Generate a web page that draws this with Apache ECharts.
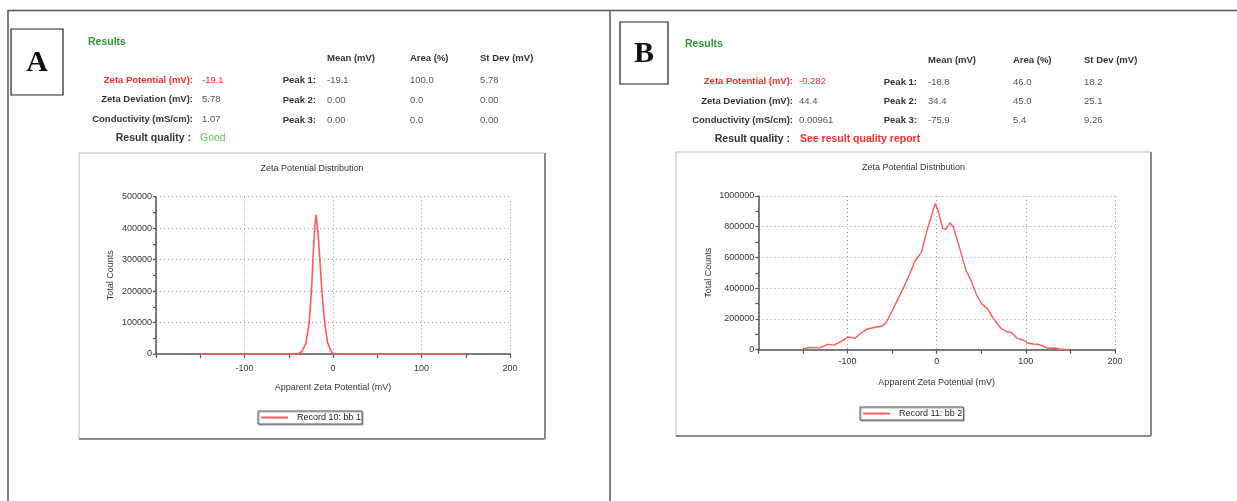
<!DOCTYPE html>
<html>
<head>
<meta charset="utf-8">
<title>Zeta Potential Results</title>
<script src="https://cdn.jsdelivr.net/npm/echarts@6/dist/echarts.min.js"></script>
<style>
  html, body { margin: 0; padding: 0; background: #fff; }
  #chart { width: 1237px; height: 501px; }
</style>
</head>
<body>
<div id="chart"></div>
<script>
// ---- measurement values ----
const resultLabels = ['Zeta Potential (mV):', 'Zeta Deviation (mV):', 'Conductivity (mS/cm):'];
const peakNames = ['Peak 1:', 'Peak 2:', 'Peak 3:'];
const peakHeaders = ['Mean (mV)', 'Area (%)', 'St Dev (mV)'];

const resultsA = ['-19.1', '5.78', '1.07'];
const qualityA = 'Good';
const peaksA = [['-19.1', '100.0', '5.78'], ['0.00', '0.0', '0.00'], ['0.00', '0.0', '0.00']];

const resultsB = ['-0.282', '44.4', '0.00961'];
const qualityB = 'See result quality report';
const peaksB = [['-18.8', '46.0', '18.2'], ['34.4', '45.0', '25.1'], ['-75.9', '5.4', '9.26']];

// distribution curves: apparent zeta potential (mV) vs total counts
const potentialA = [-150, -40, -38, -35.5, -30.7, -27, -24.3, -22.5, -20.6, -19.1, -16.9, -14.6, -12.4, -9.3, -6.3, -3.4, 0, 150];
const countsA    = [0, 0, 0, 7000, 34000, 97000, 203000, 309000, 405000, 442000, 384000, 288000, 193000, 97000, 39000, 15000, 0, 0];

const potentialB = [-150, -142, -131, -122, -115, -106, -99, -91.5, -86, -77.7, -69, -60, -56, -48.6, -37.4, -30.7, -24.3, -16.8, -11.2, -5.6, -1.5,
                    1.9, 6.7, 10.4, 14.9, 18.6, 24.2, 28, 32.8, 39.2, 44.8, 51, 56.7, 63.4, 71.7, 78.4, 84, 90.3, 96.3, 101.5, 108, 113.8, 119.4, 125, 132.5, 138, 148.5];
const countsB    = [6000, 15000, 12000, 35000, 30000, 57000, 83000, 74000, 102000, 135000, 146000, 156000, 182000, 269000, 399000, 486000, 577000, 638000, 768000, 876000, 952000,
                    898000, 790000, 783000, 826000, 800000, 692000, 616000, 518000, 442000, 356000, 295000, 269000, 204000, 143000, 117000, 111000, 74000, 65000, 44000, 37000, 35000, 24000, 9000, 11000, 3000, 0];

const seriesNameA = 'Record 10: bb 1';
const seriesNameB = 'Record 11: bb 2';

// ---- styling ----
const FONT = '"Liberation Sans Narrow", "Liberation Sans", Arial, sans-serif';
const LABEL_COLOR = '#333';
const VALUE_COLOR = '#555';
const RED = '#ff2a2a';
const LINE_RED = '#ff5a5a';
const GREEN = '#2e9a2e';

function txt(x, y, text, opts) {
  opts = opts || {};
  return {
    type: 'text', silent: true,
    style: {
      x: x, y: y, text: text,
      fill: opts.fill || LABEL_COLOR,
      font: (opts.bold ? 'bold ' : '') + (opts.size || 9.5) + 'px ' + (opts.family || FONT),
      align: opts.align || 'left',
      verticalAlign: 'middle'
    }
  };
}

function line(x1, y1, x2, y2, stroke, w) {
  return { type: 'line', silent: true, shape: { x1: x1, y1: y1, x2: x2, y2: y2 }, style: { stroke: stroke, lineWidth: w } };
}

function panelText(L, results, quality, qualityColor, qualityBold, peaks) {
  const out = [];
  out.push(txt(L.titleX, L.titleY, 'Results', { fill: GREEN, bold: true, size: 10.5 }));
  resultLabels.forEach(function (lab, i) {
    out.push(txt(L.labelRight, L.rows[i], lab, { bold: true, align: 'right', fill: i === 0 ? RED : LABEL_COLOR }));
    out.push(txt(L.valueX, L.rows[i], results[i], { fill: i === 0 ? RED : VALUE_COLOR }));
  });
  out.push(txt(L.qualityRight, L.qualityY, 'Result quality :', { bold: true, align: 'right', size: 10.5 }));
  out.push(txt(L.qualityX, L.qualityY, quality, { fill: qualityColor, bold: qualityBold, size: 10.5 }));
  peakHeaders.forEach(function (h, j) {
    out.push(txt(L.cols[j], L.headY, h, { bold: true }));
  });
  peakNames.forEach(function (p, i) {
    out.push(txt(L.peakRight, L.peakRows[i], p, { bold: true, align: 'right' }));
    peaks[i].forEach(function (v, j) {
      out.push(txt(L.cols[j], L.peakRows[i], v, { fill: VALUE_COLOR }));
    });
  });
  return out;
}

function chartBox(b, title) {
  return [
    { type: 'rect', silent: true, shape: { x: b.x, y: b.y, width: b.w, height: b.h }, style: { fill: '#fff', stroke: '#b8b8b8', lineWidth: 1 }, z: -1 },
    line(b.x, b.y + b.h, b.x + b.w, b.y + b.h, '#8a8a8a', 2),
    line(b.x + b.w, b.y, b.x + b.w, b.y + b.h, '#8a8a8a', 2),
    txt(b.x + b.w / 2, b.titleY, title, { size: 9, align: 'center', family: '"Liberation Sans", Arial, sans-serif' })
  ];
}

const layoutA = {
  titleX: 88, titleY: 42, labelRight: 193, valueX: 202, rows: [80, 99.5, 119],
  qualityRight: 191, qualityX: 200, qualityY: 138.5,
  peakRight: 316, cols: [327, 410, 480], headY: 58.5, peakRows: [80.5, 100.3, 120]
};
const layoutB = {
  titleX: 685, titleY: 44, labelRight: 793, valueX: 799, rows: [81.7, 101, 120.3],
  qualityRight: 790, qualityX: 800, qualityY: 139.5,
  peakRight: 917, cols: [928, 1013, 1084], headY: 60, peakRows: [82.3, 101.7, 120.7]
};

const graphics = [].concat(
  // outer frame of the figure table
  [line(8, 10.5, 1237, 10.5, '#555', 1.5), line(8, 10, 8, 501, '#555', 1.5), line(610, 10, 610, 501, '#555', 1.5)],
  // panel letters
  [
    { type: 'rect', silent: true, shape: { x: 11, y: 29, width: 52, height: 66 }, style: { fill: 'none', stroke: '#222', lineWidth: 1.2 } },
    txt(37, 63, 'A', { bold: true, size: 30, align: 'center', family: '"Liberation Serif", "DejaVu Serif", serif', fill: '#111' }),
    { type: 'rect', silent: true, shape: { x: 620, y: 22, width: 48, height: 62 }, style: { fill: 'none', stroke: '#222', lineWidth: 1.2 } },
    txt(644, 54, 'B', { bold: true, size: 30, align: 'center', family: '"Liberation Serif", "DejaVu Serif", serif', fill: '#111' })
  ],
  panelText(layoutA, resultsA, qualityA, '#5cc85c', false, peaksA),
  panelText(layoutB, resultsB, qualityB, RED, true, peaksB),
  chartBox({ x: 79, y: 153, w: 466, h: 286, titleY: 168.5 }, 'Zeta Potential Distribution'),
  chartBox({ x: 676, y: 152, w: 475, h: 284, titleY: 167.5 }, 'Zeta Potential Distribution')
);

const axisFont = { fontFamily: '"Liberation Sans", Arial, sans-serif', fontSize: 9, color: '#333' };
const gridLine = { show: true, lineStyle: { color: '#9a9a9a', type: [1, 3], width: 1 } };
const axisLine = { show: true, onZero: false, lineStyle: { color: '#555', width: 1.5 } };

function xAxisFor(gridIndex, margin, nameGap) {
  return {
    type: 'value', gridIndex: gridIndex, min: -200, max: 200, interval: 100,
    name: 'Apparent Zeta Potential (mV)', nameLocation: 'middle', nameGap: nameGap,
    nameTextStyle: axisFont,
    axisLine: axisLine,
    axisTick: { show: true, length: 4, lineStyle: { color: '#555', width: 1.2 } },
    minorTick: { show: true, splitNumber: 2, length: 4, lineStyle: { color: '#555', width: 1.2 } },
    axisLabel: Object.assign({ margin: margin, showMinLabel: false, formatter: function (v) { return String(v); } }, axisFont),
    splitLine: gridLine
  };
}

function yAxisFor(gridIndex, max, interval, nameGap) {
  return {
    type: 'value', gridIndex: gridIndex, min: 0, max: max, interval: interval,
    name: 'Total Counts', nameLocation: 'middle', nameGap: nameGap, nameRotate: 90,
    nameTextStyle: axisFont,
    axisLine: axisLine,
    axisTick: { show: true, length: 3, lineStyle: { color: '#555', width: 1.2 } },
    minorTick: { show: true, splitNumber: 2, length: 3, lineStyle: { color: '#555', width: 1.2 } },
    axisLabel: Object.assign({ margin: 4, formatter: function (v) { return String(v); } }, axisFont),
    splitLine: gridLine
  };
}

function legendFor(name, left, top) {
  return {
    data: [name], left: left, top: top, orient: 'horizontal',
    icon: 'rect', itemWidth: 27, itemHeight: 2, itemGap: 4,
    padding: [2, 1, 2, 3],
    borderColor: '#555', borderWidth: 1, borderRadius: 0,
    backgroundColor: '#fff',
    shadowColor: 'rgba(0,0,0,0.35)', shadowBlur: 1, shadowOffsetX: 1, shadowOffsetY: 1,
    selectedMode: false,
    textStyle: { fontFamily: '"Liberation Sans", Arial, sans-serif', fontSize: 9, color: '#222', padding: [0, 0, 0, 4] }
  };
}

function zip(xs, ys) { return xs.map(function (x, i) { return [x, ys[i]]; }); }

const option = {
  animation: false,
  backgroundColor: '#fff',
  graphic: graphics,
  grid: [
    { left: 156, top: 196.7, width: 354, height: 157.3, containLabel: false },
    { left: 758.3, top: 196, width: 356.7, height: 153.7, containLabel: false }
  ],
  xAxis: [xAxisFor(0, 10, 29), xAxisFor(1, 7, 28)],
  yAxis: [yAxisFor(0, 500000, 100000, 41), yAxisFor(1, 1000000, 200000, 45)],
  legend: [legendFor(seriesNameA, 258, 411), legendFor(seriesNameB, 860, 407)],
  series: [
    {
      name: seriesNameA, type: 'line', xAxisIndex: 0, yAxisIndex: 0,
      data: zip(potentialA, countsA), showSymbol: false, symbol: 'none', smooth: false, clip: false,
      lineStyle: { color: LINE_RED, width: 1.6 }, itemStyle: { color: LINE_RED }, z: 5
    },
    {
      name: seriesNameB, type: 'line', xAxisIndex: 1, yAxisIndex: 1,
      data: zip(potentialB, countsB), showSymbol: false, symbol: 'none', smooth: false, clip: false,
      lineStyle: { color: LINE_RED, width: 1.4 }, itemStyle: { color: LINE_RED }, z: 5
    }
  ]
};

const chart = echarts.init(document.getElementById('chart'), null, { renderer: 'canvas' });
chart.setOption(option);
</script>
</body>
</html>
